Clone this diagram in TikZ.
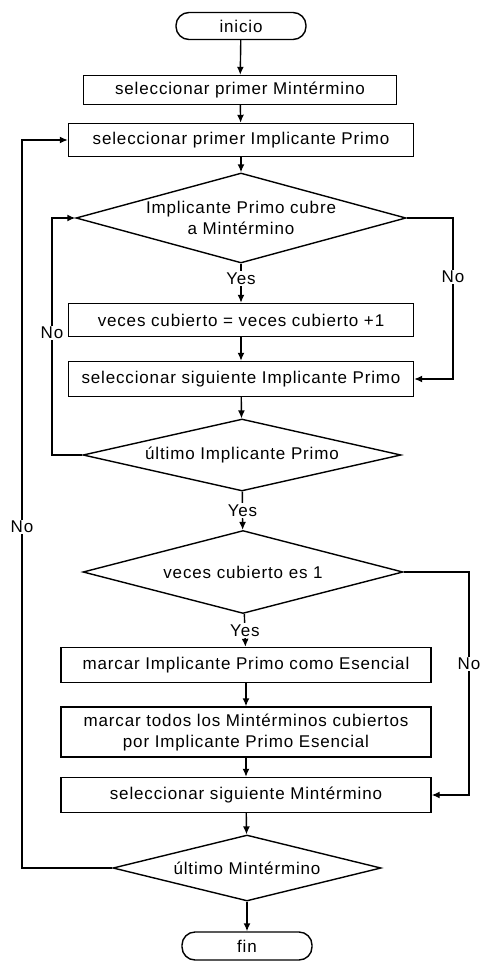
\documentclass[tikz,border=0pt]{standalone}
\usepackage{fontspec}
\setmainfont{Liberation Sans}[LetterSpace=5]
\usetikzlibrary{shapes.geometric,arrows.meta}

\tikzset{
  proceso/.style={draw, rectangle, minimum width=345pt, minimum height=33pt, inner sep=0pt},
  decision/.style={draw, diamond, aspect=4, inner sep=0pt},
  terminal/.style={draw, rectangle, rounded corners=13pt, minimum width=130pt, minimum height=27pt},
  flecha/.style={-{Latex[length=8pt,width=7pt]}},
  etiqueta/.style={fill=white, inner sep=1.5pt}
}

\begin{document}
\begin{tikzpicture}[x=1pt, y=-1pt, line width=1.4pt, font=\fontsize{17}{21}\selectfont]
\useasboundingbox (0,0) rectangle (480,963);

% Nodes
\node[terminal] (inicio) at (241,26) {inicio};
\node[proceso, minimum width=313pt, minimum height=29pt] (selMin) at (240,90) {seleccionar primer Mintérmino};
\node[proceso] (selImp) at (241,140) {seleccionar primer Implicante Primo};
\node[decision, aspect=3.6, minimum width=330pt, minimum height=90pt, align=center] (cubre) at (241,218) {Implicante Primo cubre\\a Mintérmino};
\node[proceso] (sumar) at (241,320) {veces cubierto = veces cubierto +1};
\node[proceso, minimum height=35pt] (sigImp) at (241,379) {seleccionar siguiente Implicante Primo};
\node[decision, minimum width=318pt, minimum height=72pt] (ultImp) at (242,455) {último Implicante Primo};
\node[decision, minimum width=320pt, minimum height=83pt] (esUno) at (243,572) {veces cubierto es 1};
\node[proceso, minimum width=370pt, minimum height=35pt] (marcar) at (246,665) {marcar Implicante Primo como Esencial};
\node[proceso, minimum width=370pt, minimum height=50pt, align=center] (marcarTodos) at (246,732) {marcar todos los Mintérminos cubiertos\\por Implicante Primo Esencial};
\node[proceso, minimum width=370pt, minimum height=35pt] (sigMin) at (246,795) {seleccionar siguiente Mintérmino};
\node[decision, minimum width=268pt, minimum height=66pt] (ultMin) at (247,868) {último Mintérmino};
\node[terminal, minimum height=28pt] (fin) at (247,946) {fin};

% Bends of the No branches
\coordinate (noA) at (52,333);
\coordinate (noB) at (453,277);
\coordinate (noC) at (22,527);
\coordinate (noD) at (469,664);

% Arrows
\draw[flecha] (inicio) -- (selMin);
\draw[flecha] (selMin) -- (selImp);
\draw[flecha] (selImp) -- (cubre);
\draw[flecha] (cubre) -- node[etiqueta, pos=0.38] {Yes} (sumar);
\draw[flecha] (sumar) -- (sigImp);
\draw[flecha] (sigImp) -- (ultImp);
\draw[flecha] (ultImp) -- node[etiqueta] {Yes} (esUno);
\draw[flecha] (esUno) -- node[etiqueta] {Yes} (marcar);
\draw[flecha] (marcar) -- (marcarTodos);
\draw[flecha] (marcarTodos) -- (sigMin);
\draw[flecha] (sigMin) -- (ultMin);
\draw[flecha] (ultMin) -- (fin);

\draw[flecha] (ultImp.west) -| (noA) node[etiqueta] {No} |- (cubre.west);
\draw[flecha] (cubre.east) -| (noB) node[etiqueta] {No} |- (sigImp.east);
\draw[flecha] (ultMin.west) -| (noC) node[etiqueta] {No} |- (selImp.west);
\draw[flecha] (esUno.east) -| (noD) node[etiqueta] {No} |- (sigMin.east);

\end{tikzpicture}
\end{document}
